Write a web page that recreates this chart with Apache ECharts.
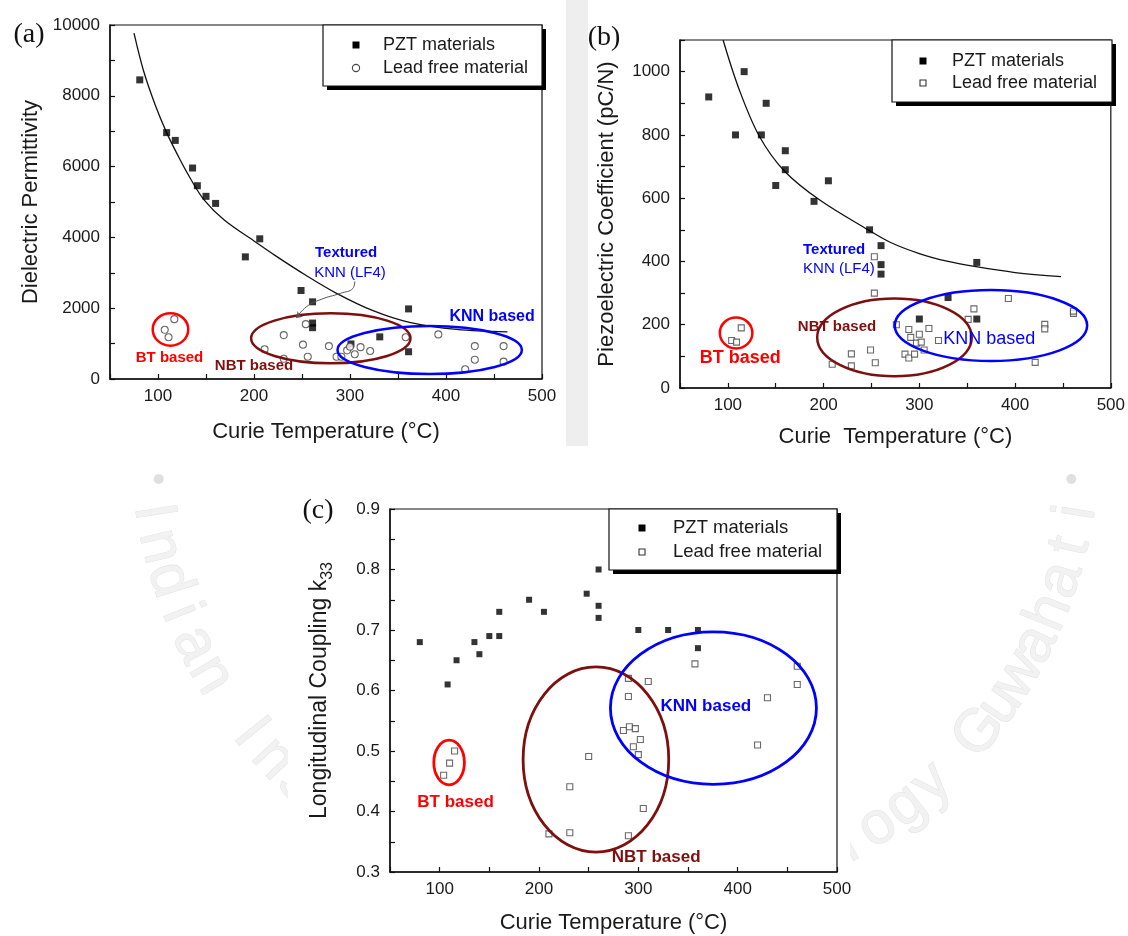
<!DOCTYPE html>
<html>
<head>
<meta charset="utf-8">
<script src="https://cdn.jsdelivr.net/npm/echarts@6/dist/echarts.min.js"></script>
<style>
  html, body { margin: 0; padding: 0; background: #fff; }
  #PiezoChart { width: 1128px; height: 936px; }
</style>
</head>
<body>
<div id="PiezoChart"></div>
<script>
// tick labels
const xTickLabels = [100, 200, 300, 400, 500];
const yTickLabelsA = [0, 2000, 4000, 6000, 8000, 10000];
const yTickLabelsB = [0, 200, 400, 600, 800, 1000];
const yTickLabelsC = ['0.3', '0.4', '0.5', '0.6', '0.7', '0.8', '0.9'];

// (a) dielectric permittivity  [Tc, value]
const pztA = [[81, 8450], [109, 6960], [118, 6740], [136, 5960], [141, 5460], [150, 5160], [160, 4960],
  [191, 3450], [206, 3960], [249, 2500], [261, 2180], [261, 1580], [261, 1450], [301, 990],
  [331, 1190], [361, 1980], [361, 770]];
const leadFreeA = [[117, 1690], [107, 1390], [111, 1180], [211, 840], [231, 1240], [231, 570], [251, 970],
  [256, 630], [254, 1550], [278, 930], [286, 630], [291, 630], [297, 810], [300, 910], [305, 700],
  [311, 900], [321, 790], [358, 1180], [392, 1260], [430, 930], [430, 545], [420, 275], [460, 930], [460, 490]];
const fitA = [[75, 9770], [85, 8700], [97, 7750], [109, 6960], [121, 6300], [133, 5700], [148, 5060],
  [169, 4490], [200, 3900], [223, 3470], [254, 2930], [286, 2420], [324, 1930], [362, 1600],
  [411, 1400], [464, 1330]];
const pointerA = [[305, 2760], [303, 2560], [290, 2420], [270, 2250], [255, 2050], [244, 1720]];

// (b) piezoelectric coefficient d33 (pC/N)
const pztB = [[80, 920], [108, 800], [117, 1000], [135, 800], [140, 900], [150, 640], [160, 750], [160, 690],
  [190, 590], [205, 655], [248, 500], [260, 450], [260, 390], [260, 360], [300, 218], [330, 286],
  [360, 397], [360, 218]];
const leadFreeB = [[104, 150], [109, 145], [114, 190], [209, 75], [229, 108], [229, 70], [249, 120], [253, 415],
  [253, 300], [254, 80], [276, 200], [285, 107], [289, 95], [289, 185], [291, 160], [295, 107], [297, 142],
  [300, 170], [302, 145], [305, 120], [310, 188], [320, 150], [351, 217], [357, 250], [393, 283],
  [421, 81], [431, 201], [431, 187], [461, 236], [461, 243]];
const fitB = [[95, 1100], [112, 942], [133, 795], [159, 686], [196, 594], [247, 499], [270, 460],
  [300, 425], [330, 400], [356, 385], [400, 365], [448, 352]];

// (c) longitudinal coupling k33
const pztC = [[80, 0.68], [108, 0.61], [117, 0.65], [135, 0.68], [140, 0.66], [150, 0.69], [160, 0.69],
  [160, 0.73], [190, 0.75], [205, 0.73], [248, 0.76], [260, 0.80], [260, 0.74], [260, 0.72],
  [300, 0.70], [330, 0.70], [360, 0.70], [360, 0.67]];
const leadFreeC = [[104, 0.46], [110, 0.48], [115, 0.50], [210, 0.363], [231, 0.365], [231, 0.441],
  [250, 0.491], [285, 0.534], [290, 0.36], [290, 0.59], [290, 0.62], [291, 0.54], [295, 0.507],
  [297, 0.537], [300, 0.494], [302, 0.519], [305, 0.405], [310, 0.615], [357, 0.644], [420, 0.51],
  [430, 0.588], [460, 0.61], [460, 0.64]];

// material groups: [centre Tc, centre value, half width, half height]
const ellipsesA = [[113, 1400, 18.5, 458], [280, 1150, 83, 706], [383, 820, 96, 678]];
const ellipsesB = [[108.6, 174, 17, 49], [274, 160, 80.7, 122.6], [374.8, 197.5, 100.5, 112]];
const ellipsesC = [[109.5, 0.481, 15.4, 0.037], [257.3, 0.486, 73.3, 0.153], [375.6, 0.571, 103.7, 0.126]];

const labelsA = [[112, 585, 'BT based'], [200, 377, 'NBT based'], [448, 1770, 'KNN based'],
  [296, 3550, 'Textured'], [300, 2985, 'KNN (LF4)']];
const labelsB = [[113, 94, 'BT based'], [214, 193, 'NBT based'], [373, 155, 'KNN based'],
  [211, 436, 'Textured'], [216, 376, 'KNN (LF4)']];
const labelsC = [[116, 0.415, 'BT based'], [318, 0.325, 'NBT based'], [368, 0.574, 'KNN based']];

const watermarkText = 'Indian Institute of Technology Guwahati';

const RED = '#ff0000', MAROON = '#7d0f0f', BLUE = '#0000ff';
const groupColors = [RED, MAROON, BLUE];
const FONT = '"Liberation Sans", Arial, sans-serif';
const labelStylesA = [[RED, 'bold 15px'], [MAROON, 'bold 15px'], [BLUE, 'bold 16px'], [BLUE, 'bold 15px'], [BLUE, '15px']];
const labelStylesB = [[RED, 'bold 18px'], [MAROON, 'bold 15px'], [BLUE, '18px'], [BLUE, 'bold 15px'], [BLUE, '15px']];
const labelStylesC = [[RED, 'bold 17px'], [MAROON, 'bold 17px'], [BLUE, 'bold 17px']];

const myChart = echarts.init(document.getElementById('PiezoChart'), null, { renderer: 'canvas' });

const xAxisFor = (gridIndex, name, gap) => ({
  type: 'value', gridIndex, min: 50, max: 500, interval: 50,
  name, nameLocation: 'middle', nameGap: gap,
  nameTextStyle: { fontFamily: FONT, fontSize: 22, color: '#1a1a1a' },
  axisLine: { lineStyle: { color: '#111', width: 1.5 } },
  axisTick: { inside: true, length: 5, lineStyle: { color: '#111', width: 1.2 } },
  axisLabel: {
    fontFamily: FONT, fontSize: 17, color: '#1a1a1a', margin: 9,
    formatter: v => xTickLabels.includes(v) ? String(v) : ''
  },
  splitLine: { show: false }
});

const yAxisFor = (gridIndex, min, max, interval, name, gap, formatter, extra) => Object.assign({
  type: 'value', gridIndex, min, max, interval,
  name, nameLocation: 'middle', nameGap: gap,
  nameTextStyle: { fontFamily: FONT, fontSize: 22, color: '#1a1a1a' },
  axisLine: { lineStyle: { color: '#111', width: 1.5 } },
  axisTick: { inside: true, length: 5, lineStyle: { color: '#111', width: 1.2 } },
  axisLabel: { fontFamily: FONT, fontSize: 17, color: '#1a1a1a', margin: 10, formatter },
  splitLine: { show: false }
}, extra || {});

const pztSeries = (i, data, size) => ({
  type: 'scatter', name: 'PZT materials', xAxisIndex: i, yAxisIndex: i, data,
  symbol: 'rect', symbolSize: size, itemStyle: { color: '#000' }, z: 3
});
const leadFreeSeries = (i, data, symbol, size) => ({
  type: 'scatter', name: 'Lead free material', xAxisIndex: i, yAxisIndex: i, data,
  symbol, symbolSize: size,
  itemStyle: { color: '#fff', borderColor: '#444', borderWidth: 1.1 }, z: 3
});
const fitSeries = (i, data) => ({
  type: 'line', xAxisIndex: i, yAxisIndex: i, data, smooth: 0.35, symbol: 'none',
  lineStyle: { color: '#111', width: 1.3 }, z: 2, silent: true
});
const ellipseSeries = (i, data, width) => ({
  type: 'custom', xAxisIndex: i, yAxisIndex: i, data, silent: true, z: 4,
  renderItem: (params, api) => {
    const c = api.coord([api.value(0), api.value(1)]);
    const r = api.size([api.value(2), api.value(3)]);
    return {
      type: 'ellipse',
      shape: { cx: c[0], cy: c[1], rx: r[0], ry: r[1] },
      style: { fill: 'none', stroke: groupColors[params.dataIndex], lineWidth: width }
    };
  }
});
const labelSeries = (i, labels, styles) => ({
  type: 'custom', xAxisIndex: i, yAxisIndex: i, silent: true, z: 6,
  data: labels.map(l => [l[0], l[1]]),
  renderItem: (params, api) => {
    const p = api.coord([api.value(0), api.value(1)]);
    const s = styles[params.dataIndex];
    return {
      type: 'text', x: p[0], y: p[1],
      style: { text: labels[params.dataIndex][2], fill: s[0], font: s[1] + ' ' + FONT, align: 'center', verticalAlign: 'middle' }
    };
  }
});

// legend box drawn as a framed panel with a hard drop shadow
const legendBox = (x, y, w, h, sx, y1, y2, tx, leadIcon, fs) => ([
  { type: 'rect', z: 50, shape: { x: x + 4, y: y + 4, width: w, height: h }, style: { fill: '#000' } },
  { type: 'rect', z: 51, shape: { x, y, width: w, height: h }, style: { fill: '#fff', stroke: '#111', lineWidth: 1.2 } },
  { type: 'rect', z: 52, shape: { x: sx - 3.5, y: y1 - 3.5, width: 7, height: 7 }, style: { fill: '#000' } },
  leadIcon === 'circle'
    ? { type: 'circle', z: 52, shape: { cx: sx, cy: y2, r: 3.6 }, style: { fill: '#fff', stroke: '#444', lineWidth: 1.1 } }
    : { type: 'rect', z: 52, shape: { x: sx - 3, y: y2 - 3, width: 6, height: 6 }, style: { fill: '#fff', stroke: '#333', lineWidth: 1.1 } },
  { type: 'text', z: 52, x: tx, y: y1, style: { text: 'PZT materials', font: fs + 'px ' + FONT, fill: '#1a1a1a', verticalAlign: 'middle' } },
  { type: 'text', z: 52, x: tx, y: y2, style: { text: 'Lead free material', font: fs + 'px ' + FONT, fill: '#1a1a1a', verticalAlign: 'middle' } }
]);

const panelTag = (text, x, y) => ({
  type: 'text', z: 60, x, y,
  style: { text, font: '28px "Liberation Serif", "Times New Roman", serif', fill: '#111', align: 'center', verticalAlign: 'middle' }
});

// faint institute seal behind the figure (letters around the lower half of a circle)
const sealLetters = () => {
  const cx = 615, cy = 439, r = 468, from = 171, to = 9;
  const chars = watermarkText.split('');
  const step = (from - to) / (chars.length - 1);
  const out = [];
  chars.forEach((ch, k) => {
    if (ch === ' ') return;
    const deg = from - k * step;
    const t = deg * Math.PI / 180;
    out.push({
      type: 'text', z: -10, silent: true,
      x: cx + r * Math.cos(t), y: cy + r * Math.sin(t), rotation: -(deg - 90) * Math.PI / 180,
      style: { text: ch, font: '60px ' + FONT, fill: '#f2f2f2', stroke: '#e2e2e2', lineWidth: 1, align: 'center', verticalAlign: 'middle' }
    });
  });
  [175, 5].forEach(deg => {
    const t = deg * Math.PI / 180;
    out.push({ type: 'circle', z: -10, silent: true, shape: { cx: cx + (r - 10) * Math.cos(t), cy: cy + (r - 10) * Math.sin(t), r: 5 }, style: { fill: '#e0e0e0' } });
  });
  return out;
};

const option = {
  animation: false,
  backgroundColor: '#fff',
  grid: [
    { left: 110, top: 25, width: 432, height: 354, show: true, borderColor: '#111', borderWidth: 1.2 },
    { left: 680, top: 40, width: 432, height: 348, show: true, borderColor: '#111', borderWidth: 1.2 },
    { left: 390, top: 509, width: 447, height: 363, show: true, borderColor: '#111', borderWidth: 1.2 }
  ],
  xAxis: [
    xAxisFor(0, 'Curie Temperature (°C)', 42),
    xAxisFor(1, 'Curie  Temperature (°C)', 38),
    xAxisFor(2, 'Curie Temperature (°C)', 40)
  ],
  yAxis: [
    yAxisFor(0, 0, 10000, 1000, 'Dielectric Permittivity', 68,
      v => yTickLabelsA.includes(v) ? String(v) : ''),
    yAxisFor(1, 0, 1100, 100, 'Piezoelectric Coefficient (pC/N)', 62,
      v => yTickLabelsB.includes(v) ? String(v) : ''),
    yAxisFor(2, 0.3, 0.9, 0.05, 'Longitudinal Coupling k{sub|33}', 54,
      v => {
        const t = v.toFixed(1);
        return yTickLabelsC.includes(t) && Math.abs(v - parseFloat(t)) < 1e-6 ? t : '';
      },
      { nameTextStyle: { fontFamily: FONT, fontSize: 23, color: '#1a1a1a', lineHeight: 32,
        rich: { sub: { fontFamily: FONT, fontSize: 16, color: '#1a1a1a', verticalAlign: 'bottom' } } } })
  ],
  graphic: [
    ...sealLetters(),
    { type: 'rect', z: -9, silent: true, shape: { x: 566, y: 0, width: 22, height: 446 }, style: { fill: '#eeeeee' } },
    { type: 'rect', z: -8, silent: true, shape: { x: 288, y: 478, width: 562, height: 458 }, style: { fill: '#fff' } },
    panelTag('(a)', 29, 35),
    panelTag('(b)', 604, 38),
    panelTag('(c)', 318, 511),
    ...legendBox(323, 25, 219, 61, 356, 45, 68, 383, 'circle', 18),
    ...legendBox(892, 40, 220, 62, 923, 61, 83, 952, 'rect', 18),
    ...legendBox(609, 509, 228, 61, 642, 528, 552, 673, 'rect', 18.5)
  ],
  series: [
    fitSeries(0, fitA),
    {
      type: 'line', xAxisIndex: 0, yAxisIndex: 0, smooth: 0.5, silent: true, z: 5,
      data: pointerA.map((p, k) => k === pointerA.length - 1
        ? { value: p, symbol: 'arrow', symbolSize: 6, symbolRotate: 135 }
        : { value: p, symbol: 'none' }),
      lineStyle: { color: '#555', width: 1 }, itemStyle: { color: '#555' }
    },
    pztSeries(0, pztA, 7),
    leadFreeSeries(0, leadFreeA, 'circle', 7),
    ellipseSeries(0, ellipsesA, 2.5),
    labelSeries(0, labelsA, labelStylesA),

    fitSeries(1, fitB),
    pztSeries(1, pztB, 7),
    leadFreeSeries(1, leadFreeB, 'rect', 6),
    ellipseSeries(1, ellipsesB, 2.5),
    labelSeries(1, labelsB, labelStylesB),

    pztSeries(2, pztC, 6),
    leadFreeSeries(2, leadFreeC, 'rect', 6),
    ellipseSeries(2, ellipsesC, 2.8),
    labelSeries(2, labelsC, labelStylesC)
  ]
};

myChart.setOption(option);
</script>
</body>
</html>
